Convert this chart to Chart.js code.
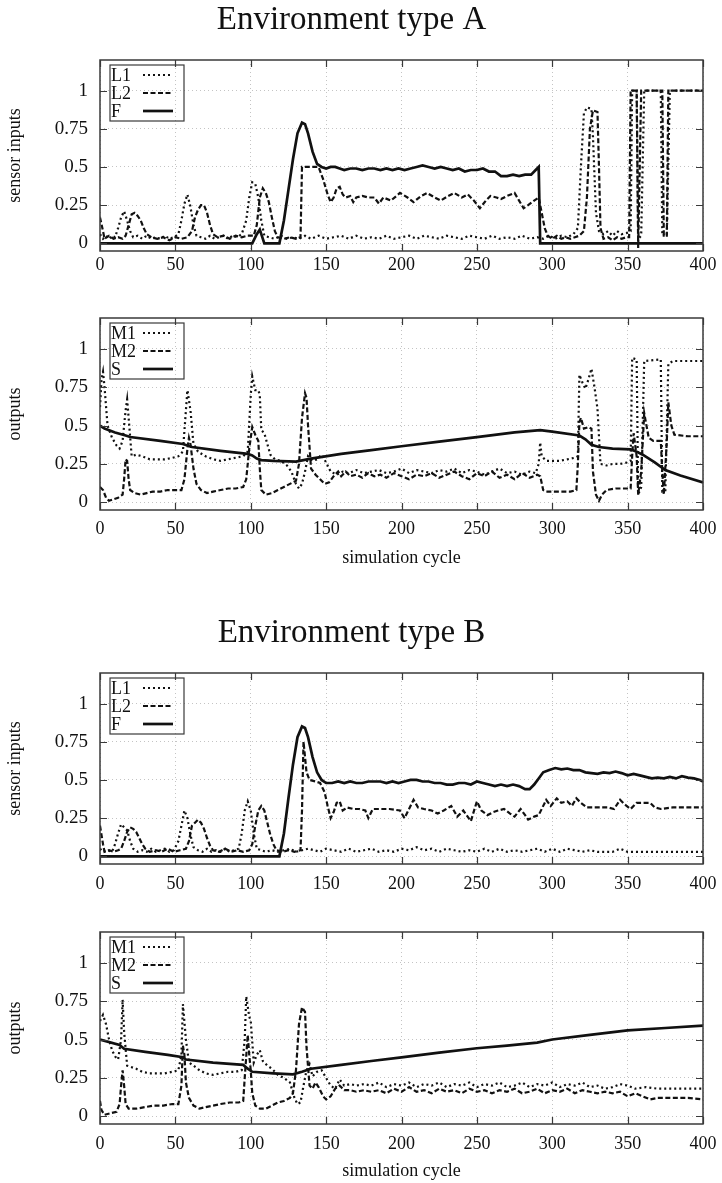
<!DOCTYPE html>
<html>
<head>
<meta charset="utf-8">
<title>Environment type A / B</title>
<script src="https://cdn.jsdelivr.net/npm/chart.js@4.4.1/dist/chart.umd.min.js"></script>
<style>
  body { margin: 0; background: #fff; width: 722px; height: 1183px; position: relative; overflow: hidden; }
  canvas { position: absolute; left: 0; }
</style>
</head>
<body>
<canvas id="envAInputs" width="722" height="280" style="top:0px"></canvas>
<canvas id="envAOutputs" width="722" height="300" style="top:280px"></canvas>
<canvas id="envBInputs" width="722" height="280" style="top:613px"></canvas>
<canvas id="envBOutputs" width="722" height="290" style="top:893px"></canvas>
<script>
// axis ticks
const xTicks = [0, 50, 100, 150, 200, 250, 300, 350, 400];
const yTicks = [0, 0.25, 0.5, 0.75, 1];
const yTickLabels = ["0", "0.25", "0.5", "0.75", "1"];

// environment A, sensor inputs  [cycle, value]
const envA_L1 = [[0,0.06],[2,0.03],[4,0.05],[6,0.03],[8,0.05],[10,0.04],[12,0.1],[14,0.17],[16,0.21],[18,0.15],[20,0.08],[22,0.04],[25,0.05],[28,0.03],[31,0.05],[34,0.03],[37,0.04],[40,0.03],[43,0.05],[46,0.03],[49,0.04],[52,0.06],[54,0.15],[56,0.26],[58,0.32],[60,0.24],[62,0.12],[64,0.05],[67,0.04],[70,0.03],[73,0.05],[76,0.03],[79,0.04],[82,0.05],[85,0.03],[88,0.05],[91,0.04],[94,0.06],[97,0.15],[99,0.3],[101,0.4],[103,0.39],[105,0.3],[107,0.15],[109,0.05],[112,0.04],[116,0.03],[120,0.05],[124,0.03],[128,0.04],[132,0.03],[136,0.05],[140,0.03],[145,0.05],[150,0.03],[155,0.04],[160,0.05],[165,0.03],[170,0.05],[175,0.03],[180,0.04],[185,0.03],[190,0.05],[195,0.03],[200,0.04],[205,0.05],[210,0.03],[215,0.05],[220,0.04],[225,0.03],[230,0.05],[235,0.04],[240,0.03],[245,0.05],[250,0.04],[255,0.03],[260,0.05],[265,0.03],[270,0.04],[275,0.03],[280,0.05],[285,0.03],[290,0.04],[294,0.03],[298,0.05],[302,0.03],[306,0.05],[310,0.04],[314,0.06],[317,0.1],[319,0.5],[321,0.85],[323,0.89],[326,0.88],[327,0.7],[329,0.2],[331,0.08],[334,0.06],[337,0.08],[340,0.05],[343,0.08],[346,0.06],[350,0.07],[352,0.08],[353,1],[356,1],[357,0.03],[359,0.05],[361,1],[372,1],[373,0.05],[376,0.05],[378,1],[400,1]];
const envA_L2 = [[0,0.17],[2,0.08],[3,0.03],[6,0.05],[9,0.03],[12,0.04],[15,0.03],[17,0.05],[19,0.12],[21,0.19],[23,0.2],[25,0.18],[27,0.15],[29,0.1],[31,0.06],[34,0.04],[38,0.03],[42,0.04],[46,0.02],[50,0.04],[54,0.03],[58,0.04],[61,0.08],[63,0.17],[65,0.22],[67,0.25],[69,0.25],[71,0.2],[73,0.12],[75,0.06],[78,0.04],[82,0.05],[86,0.03],[90,0.05],[94,0.04],[98,0.05],[102,0.05],[104,0.12],[106,0.3],[108,0.36],[110,0.33],[112,0.27],[114,0.17],[116,0.08],[118,0.04],[122,0.03],[126,0.04],[130,0.03],[133,0.04],[134,0.5],[140,0.5],[145,0.5],[148,0.42],[151,0.32],[153,0.27],[155,0.3],[157,0.36],[159,0.37],[161,0.32],[163,0.3],[166,0.31],[168,0.27],[170,0.3],[174,0.31],[178,0.3],[182,0.3],[185,0.26],[188,0.3],[193,0.28],[199,0.33],[204,0.3],[208,0.27],[213,0.31],[217,0.33],[222,0.3],[226,0.28],[231,0.31],[235,0.33],[240,0.3],[244,0.32],[248,0.28],[252,0.23],[256,0.28],[259,0.31],[263,0.3],[266,0.29],[270,0.31],[275,0.33],[278,0.28],[281,0.23],[284,0.25],[288,0.28],[291,0.3],[293,0.2],[295,0.1],[297,0.05],[300,0.03],[303,0.05],[306,0.03],[309,0.04],[312,0.03],[315,0.04],[318,0.05],[321,0.08],[323,0.3],[325,0.75],[327,0.87],[330,0.86],[331,0.5],[332,0.1],[334,0.03],[337,0.04],[340,0.02],[343,0.04],[346,0.03],[349,0.04],[351,0.04],[352,1],[356,1],[357,-0.03],[359,1],[373,1],[374,0.05],[376,0.05],[377,1],[400,1]];
const envA_F = [[0,0],[101,0],[104,0.06],[106,0.09],[107,0.06],[109,0],[119,0],[122,0.15],[125,0.35],[128,0.55],[131,0.72],[134,0.79],[136,0.78],[138,0.72],[141,0.6],[144,0.52],[147,0.5],[150,0.49],[153,0.5],[156,0.5],[159,0.49],[162,0.48],[166,0.49],[170,0.49],[174,0.48],[178,0.49],[182,0.49],[186,0.48],[190,0.49],[194,0.48],[198,0.49],[202,0.48],[206,0.49],[210,0.5],[214,0.51],[218,0.5],[222,0.49],[226,0.5],[230,0.49],[234,0.48],[238,0.49],[242,0.47],[246,0.48],[250,0.48],[254,0.49],[258,0.47],[262,0.47],[266,0.44],[270,0.44],[274,0.45],[278,0.44],[282,0.45],[286,0.45],[289,0.48],[291,0.5],[292,0],[400,0]];

// environment A, outputs
const envA_M1 = [[0,0.62],[1,0.8],[2,0.85],[3,0.75],[5,0.5],[8,0.42],[11,0.37],[13,0.35],[15,0.4],[17,0.6],[18,0.67],[19,0.55],[21,0.3],[24,0.31],[28,0.3],[33,0.28],[38,0.28],[43,0.28],[48,0.29],[52,0.3],[55,0.33],[57,0.6],[58,0.73],[60,0.6],[62,0.38],[65,0.33],[70,0.3],[75,0.28],[80,0.27],[85,0.28],[90,0.29],[95,0.3],[98,0.33],[100,0.7],[101,0.82],[103,0.73],[105,0.73],[106,0.7],[107,0.47],[109,0.45],[111,0.38],[113,0.31],[116,0.28],[120,0.27],[124,0.24],[127,0.2],[130,0.12],[132,0.09],[134,0.12],[136,0.2],[138,0.3],[141,0.27],[144,0.28],[147,0.31],[150,0.26],[153,0.2],[157,0.18],[161,0.2],[165,0.19],[170,0.21],[175,0.19],[180,0.2],[185,0.21],[190,0.19],[195,0.2],[200,0.22],[205,0.19],[210,0.21],[215,0.2],[220,0.19],[225,0.21],[230,0.2],[235,0.22],[240,0.19],[245,0.21],[250,0.2],[255,0.18],[260,0.2],[265,0.22],[270,0.19],[275,0.2],[280,0.18],[285,0.2],[289,0.19],[291,0.25],[292,0.39],[293,0.3],[296,0.27],[300,0.27],[305,0.27],[310,0.28],[315,0.29],[317,0.3],[318,0.83],[320,0.78],[322,0.74],[324,0.8],[326,0.87],[328,0.75],[330,0.61],[332,0.25],[336,0.24],[340,0.25],[345,0.25],[350,0.26],[352,0.27],[353,0.94],[356,0.93],[357,0.05],[359,0.1],[361,0.92],[372,0.93],[373,0.07],[375,0.07],[377,0.9],[380,0.92],[400,0.92]];
const envA_M2 = [[0,0.1],[2,0.08],[4,0.03],[6,0.01],[9,0.02],[12,0.03],[15,0.05],[16,0.15],[17,0.28],[18,0.27],[19,0.15],[20,0.08],[23,0.06],[27,0.05],[31,0.06],[35,0.07],[40,0.07],[45,0.08],[50,0.08],[54,0.08],[56,0.15],[58,0.35],[59,0.42],[60,0.38],[62,0.22],[64,0.12],[67,0.08],[71,0.06],[75,0.07],[80,0.08],[85,0.09],[90,0.09],[95,0.1],[97,0.15],[99,0.35],[101,0.49],[103,0.44],[105,0.4],[106,0.22],[107,0.08],[110,0.05],[114,0.06],[118,0.08],[122,0.1],[126,0.12],[130,0.14],[132,0.25],[134,0.55],[136,0.71],[137,0.68],[138,0.5],[140,0.22],[143,0.18],[146,0.15],[149,0.12],[152,0.13],[155,0.17],[158,0.2],[160,0.17],[163,0.2],[166,0.17],[170,0.18],[174,0.16],[178,0.19],[182,0.17],[186,0.18],[190,0.16],[195,0.19],[200,0.17],[205,0.15],[210,0.18],[215,0.17],[220,0.19],[225,0.16],[230,0.18],[235,0.2],[240,0.17],[245,0.15],[250,0.19],[255,0.17],[260,0.2],[265,0.16],[270,0.18],[275,0.15],[280,0.19],[285,0.16],[290,0.18],[292,0.17],[294,0.08],[296,0.07],[305,0.07],[312,0.07],[316,0.08],[317,0.25],[318,0.52],[319,0.55],[321,0.48],[324,0.49],[326,0.48],[327,0.2],[329,0.05],[331,0.01],[333,0.05],[336,0.08],[342,0.09],[348,0.09],[352,0.09],[353,0.3],[354,0.45],[356,0.3],[357,0.05],[359,0.2],[361,0.58],[364,0.42],[367,0.4],[372,0.4],[373,0.2],[374,0.05],[376,0.4],[377,0.65],[379,0.5],[381,0.44],[390,0.43],[400,0.43]];
const envA_S = [[0,0.5],[3,0.48],[10,0.455],[17,0.435],[20,0.425],[40,0.4],[55,0.38],[58,0.37],[61,0.36],[80,0.335],[98,0.315],[101,0.305],[104,0.285],[107,0.275],[115,0.27],[130,0.265],[135,0.275],[140,0.285],[160,0.315],[180,0.34],[200,0.365],[225,0.395],[250,0.425],[275,0.455],[292,0.47],[300,0.46],[318,0.435],[322,0.41],[326,0.375],[331,0.36],[340,0.35],[352,0.345],[356,0.33],[360,0.31],[368,0.26],[375,0.21],[385,0.175],[400,0.13]];

// environment B, sensor inputs
const envB_L1 = [[0,0.05],[2,0.03],[5,0.04],[8,0.03],[10,0.08],[12,0.15],[14,0.21],[16,0.19],[18,0.17],[20,0.1],[22,0.05],[25,0.03],[28,0.04],[31,0.03],[34,0.05],[37,0.03],[40,0.04],[43,0.05],[46,0.03],[49,0.04],[52,0.1],[54,0.2],[56,0.3],[58,0.25],[60,0.14],[62,0.06],[65,0.04],[68,0.03],[71,0.05],[74,0.03],[77,0.04],[80,0.03],[83,0.05],[86,0.03],[89,0.04],[92,0.05],[94,0.15],[96,0.3],[98,0.36],[100,0.3],[102,0.15],[104,0.05],[107,0.04],[110,0.03],[114,0.04],[118,0.03],[122,0.04],[126,0.05],[130,0.03],[134,0.04],[138,0.05],[142,0.04],[146,0.03],[150,0.05],[155,0.04],[160,0.03],[165,0.05],[170,0.03],[175,0.04],[180,0.05],[185,0.03],[190,0.04],[195,0.03],[200,0.05],[205,0.04],[210,0.06],[215,0.04],[220,0.05],[225,0.03],[230,0.05],[235,0.04],[240,0.03],[245,0.04],[250,0.03],[255,0.05],[260,0.03],[265,0.05],[270,0.03],[275,0.04],[280,0.03],[285,0.04],[290,0.05],[295,0.03],[300,0.05],[305,0.03],[310,0.05],[315,0.04],[320,0.03],[325,0.04],[330,0.03],[340,0.03],[345,0.05],[350,0.03],[360,0.03],[400,0.03]];
const envB_L2 = [[0,0.2],[2,0.08],[3,0.03],[6,0.04],[9,0.03],[12,0.04],[14,0.05],[16,0.1],[18,0.16],[20,0.19],[22,0.18],[24,0.16],[26,0.12],[28,0.08],[30,0.05],[33,0.03],[37,0.04],[41,0.03],[45,0.05],[49,0.03],[53,0.04],[57,0.05],[59,0.1],[61,0.2],[63,0.22],[65,0.24],[67,0.22],[69,0.18],[71,0.12],[73,0.07],[75,0.04],[79,0.03],[83,0.05],[87,0.03],[91,0.04],[95,0.03],[99,0.04],[101,0.08],[103,0.2],[105,0.3],[107,0.33],[109,0.3],[111,0.22],[113,0.14],[115,0.08],[117,0.04],[121,0.03],[125,0.04],[129,0.03],[133,0.04],[134,0.3],[135,0.75],[137,0.55],[139,0.5],[143,0.49],[146,0.48],[149,0.42],[151,0.33],[153,0.25],[155,0.29],[157,0.35],[159,0.36],[161,0.3],[164,0.32],[168,0.31],[172,0.31],[176,0.3],[178,0.25],[181,0.31],[186,0.31],[192,0.31],[199,0.3],[202,0.25],[205,0.31],[208,0.37],[211,0.32],[215,0.31],[220,0.3],[224,0.28],[228,0.3],[233,0.33],[237,0.26],[241,0.3],[246,0.23],[250,0.36],[253,0.3],[257,0.27],[261,0.29],[264,0.3],[268,0.31],[272,0.28],[275,0.26],[279,0.31],[282,0.27],[284,0.24],[288,0.26],[291,0.27],[293,0.31],[296,0.37],[299,0.33],[303,0.38],[306,0.35],[310,0.36],[313,0.33],[316,0.38],[319,0.35],[323,0.32],[330,0.32],[337,0.32],[341,0.31],[345,0.37],[348,0.34],[352,0.31],[356,0.35],[360,0.35],[365,0.35],[368,0.32],[372,0.31],[380,0.32],[390,0.32],[400,0.32]];
const envB_F = [[0,0],[119,0],[122,0.15],[125,0.38],[128,0.6],[131,0.78],[134,0.85],[136,0.84],[138,0.78],[141,0.65],[144,0.55],[147,0.5],[150,0.48],[154,0.48],[158,0.49],[162,0.48],[166,0.49],[170,0.48],[174,0.48],[178,0.49],[182,0.49],[186,0.49],[190,0.48],[194,0.49],[198,0.48],[202,0.49],[206,0.5],[210,0.5],[214,0.49],[218,0.49],[222,0.48],[226,0.48],[230,0.47],[234,0.47],[238,0.48],[242,0.48],[246,0.47],[250,0.49],[254,0.48],[258,0.47],[262,0.46],[266,0.47],[270,0.46],[274,0.47],[278,0.46],[282,0.44],[285,0.44],[288,0.47],[291,0.51],[294,0.55],[298,0.565],[302,0.578],[306,0.57],[310,0.575],[314,0.565],[318,0.565],[322,0.55],[326,0.545],[330,0.54],[334,0.55],[338,0.545],[342,0.555],[346,0.545],[350,0.53],[354,0.54],[358,0.53],[362,0.52],[366,0.51],[370,0.515],[374,0.51],[378,0.52],[382,0.51],[386,0.525],[390,0.515],[394,0.51],[398,0.5],[400,0.49]];

// environment B, outputs
const envB_M1 = [[0,0.62],[2,0.66],[4,0.6],[6,0.5],[8,0.43],[10,0.39],[12,0.37],[14,0.5],[15,0.76],[16,0.55],[18,0.33],[21,0.32],[24,0.31],[28,0.29],[33,0.28],[38,0.28],[43,0.28],[48,0.29],[52,0.3],[54,0.4],[55,0.73],[57,0.5],[59,0.35],[62,0.33],[66,0.3],[70,0.28],[75,0.27],[80,0.28],[85,0.29],[90,0.29],[94,0.3],[96,0.5],[97,0.78],[99,0.65],[100,0.62],[102,0.35],[104,0.4],[106,0.43],[108,0.36],[111,0.33],[114,0.31],[118,0.27],[122,0.25],[126,0.22],[129,0.12],[131,0.08],[133,0.09],[135,0.2],[137,0.3],[139,0.34],[141,0.26],[144,0.29],[147,0.3],[150,0.25],[153,0.2],[156,0.18],[159,0.24],[162,0.2],[166,0.21],[170,0.2],[175,0.21],[180,0.2],[185,0.22],[190,0.19],[195,0.21],[200,0.2],[205,0.22],[210,0.19],[215,0.21],[220,0.2],[225,0.22],[230,0.19],[235,0.21],[240,0.2],[245,0.22],[250,0.19],[255,0.21],[260,0.2],[265,0.22],[270,0.19],[275,0.2],[280,0.22],[285,0.19],[290,0.21],[295,0.2],[300,0.22],[305,0.19],[310,0.21],[315,0.2],[320,0.22],[325,0.19],[330,0.2],[335,0.18],[340,0.19],[345,0.21],[350,0.2],[355,0.18],[362,0.19],[370,0.18],[400,0.18]];
const envB_M2 = [[0,0.1],[1,0.04],[3,0.01],[7,0.02],[11,0.03],[13,0.08],[14,0.2],[15,0.3],[16,0.2],[17,0.08],[19,0.05],[24,0.05],[30,0.06],[36,0.07],[42,0.07],[48,0.08],[52,0.08],[54,0.2],[55,0.46],[56,0.4],[57,0.22],[59,0.12],[62,0.07],[66,0.05],[70,0.06],[75,0.07],[80,0.08],[86,0.09],[92,0.09],[95,0.1],[96,0.25],[98,0.53],[99,0.4],[100,0.3],[101,0.15],[103,0.07],[106,0.05],[110,0.05],[114,0.07],[118,0.09],[122,0.1],[126,0.12],[128,0.15],[130,0.3],[132,0.6],[134,0.71],[136,0.68],[137,0.45],[139,0.2],[141,0.18],[143,0.22],[145,0.19],[148,0.13],[150,0.11],[153,0.13],[156,0.18],[159,0.2],[162,0.17],[166,0.17],[170,0.16],[175,0.17],[180,0.16],[185,0.17],[190,0.15],[195,0.18],[200,0.16],[205,0.19],[210,0.16],[215,0.17],[220,0.15],[225,0.18],[230,0.16],[235,0.17],[240,0.15],[245,0.18],[250,0.16],[255,0.17],[260,0.15],[265,0.17],[270,0.16],[275,0.18],[280,0.15],[285,0.16],[290,0.18],[295,0.15],[300,0.17],[305,0.16],[310,0.18],[315,0.15],[320,0.17],[325,0.16],[330,0.15],[335,0.16],[340,0.15],[345,0.16],[350,0.13],[355,0.15],[360,0.13],[365,0.11],[370,0.12],[380,0.12],[390,0.12],[400,0.11]];
const envB_S = [[0,0.5],[13,0.465],[16,0.44],[30,0.42],[45,0.4],[55,0.385],[57,0.37],[75,0.35],[95,0.335],[98,0.31],[101,0.29],[115,0.28],[128,0.273],[134,0.29],[140,0.31],[160,0.335],[180,0.36],[200,0.384],[225,0.415],[250,0.443],[270,0.46],[290,0.48],[300,0.5],[325,0.53],[350,0.56],[375,0.575],[400,0.59]];

const serif = "'Liberation Serif', 'DejaVu Serif', serif";
const ink = "#111";
const frameColor = "#3a3a3a";
const gridColor = "#c4c4c4";

Chart.defaults.font.family = serif;
Chart.defaults.font.size = 18;
Chart.defaults.color = ink;
Chart.defaults.animation = false;

const lineStyles = {
  dotted: { borderDash: [2, 3], borderWidth: 2.2 },
  dashed: { borderDash: [5, 2.5], borderWidth: 2.2 },
  solid: { borderDash: [], borderWidth: 2.7 }
};

const toPoints = (pairs) => pairs.map(([x, y]) => ({ x, y }));

const makeDataset = (label, pairs, style) => ({
  label,
  data: toPoints(pairs),
  borderColor: ink,
  backgroundColor: ink,
  pointRadius: 0,
  tension: 0,
  fill: false,
  ...lineStyles[style]
});

// box + inner tick marks, gnuplot style
const framePlugin = {
  id: "frame",
  afterDatasetsDraw(chart) {
    const { ctx, chartArea: a, scales: { x, y } } = chart;
    ctx.save();
    ctx.strokeStyle = frameColor;
    ctx.lineWidth = 1.2;
    ctx.setLineDash([]);
    ctx.beginPath();
    xTicks.forEach((v) => {
      const px = Math.round(x.getPixelForValue(v)) + 0.5;
      ctx.moveTo(px, a.bottom); ctx.lineTo(px, a.bottom - 7);
      ctx.moveTo(px, a.top); ctx.lineTo(px, a.top + 7);
    });
    yTicks.forEach((v) => {
      const py = Math.round(y.getPixelForValue(v)) + 0.5;
      ctx.moveTo(a.left, py); ctx.lineTo(a.left + 7, py);
      ctx.moveTo(a.right, py); ctx.lineTo(a.right - 7, py);
    });
    ctx.stroke();
    ctx.lineWidth = 1.5;
    ctx.strokeRect(a.left, a.top, a.width, a.height);
    ctx.restore();
  }
};

// key box in the upper left corner: text first, line sample after
const keyPlugin = {
  id: "key",
  afterDraw(chart) {
    const { ctx, chartArea: a } = chart;
    const left = a.left + 10;
    const top = a.top + 5;
    ctx.save();
    ctx.strokeStyle = frameColor;
    ctx.lineWidth = 1.2;
    ctx.setLineDash([]);
    ctx.strokeRect(left, top, 74, 56);
    ctx.font = "18px " + serif;
    ctx.fillStyle = ink;
    ctx.textBaseline = "middle";
    chart.data.datasets.forEach((ds, i) => {
      const cy = top + 10 + i * 18;
      ctx.fillText(ds.label, left + 1, cy + 1);
      ctx.strokeStyle = ink;
      ctx.lineWidth = ds.borderWidth;
      ctx.setLineDash(ds.borderDash);
      ctx.beginPath();
      ctx.moveTo(left + 33, cy);
      ctx.lineTo(left + 63, cy);
      ctx.stroke();
    });
    ctx.restore();
  }
};

const buildPanel = ({ id, datasets, title, yTitle, xTitle, padTop, xHeight, tickPad, xTitlePad }) => {
  new Chart(document.getElementById(id), {
    type: "line",
    data: { datasets },
    plugins: [framePlugin, keyPlugin],
    options: {
      responsive: false,
      layout: { padding: { top: padTop, right: 19, bottom: 0, left: 0 } },
      plugins: {
        legend: { display: false },
        tooltip: { enabled: false },
        title: {
          display: !!title,
          text: title,
          color: ink,
          font: { family: serif, size: 33, weight: "normal", lineHeight: 1.05 },
          padding: { top: 3, bottom: 22.35 }
        }
      },
      scales: {
        x: {
          type: "linear",
          min: 0,
          max: 400,
          afterBuildTicks: (scale) => { scale.ticks = xTicks.map((value) => ({ value })); },
          afterFit: (scale) => {
            scale.height = xHeight;
            scale.paddingLeft = 0;
            scale.paddingRight = 0;
          },
          ticks: { padding: tickPad, color: ink, maxRotation: 0, font: { size: 18 } },
          grid: { color: gridColor, lineWidth: 1, drawTicks: false },
          border: { display: false, dash: [1, 3] },
          title: {
            display: !!xTitle,
            text: xTitle,
            color: ink,
            font: { size: 18 },
            padding: { top: 0, bottom: xTitlePad }
          }
        },
        y: {
          type: "linear",
          min: -0.05,
          max: 1.2,
          afterBuildTicks: (scale) => { scale.ticks = yTicks.map((value) => ({ value })); },
          afterFit: (scale) => { scale.width = 100; },
          ticks: {
            padding: 12,
            color: ink,
            font: { size: 19 },
            callback: (value, index) => yTickLabels[index]
          },
          grid: { color: gridColor, lineWidth: 1, drawTicks: false },
          border: { display: false, dash: [1, 3] },
          title: {
            display: true,
            text: yTitle,
            color: ink,
            font: { size: 18 },
            padding: { top: 4, bottom: 0 }
          }
        }
      }
    }
  });
};

buildPanel({
  id: "envAInputs",
  title: "Environment type A",
  yTitle: "sensor inputs",
  xTitle: "",
  padTop: 0,
  xHeight: 29,
  tickPad: 3,
  xTitlePad: 0,
  datasets: [
    makeDataset("L1", envA_L1, "dotted"),
    makeDataset("L2", envA_L2, "dashed"),
    makeDataset("F", envA_F, "solid")
  ]
});

buildPanel({
  id: "envAOutputs",
  title: "",
  yTitle: "outputs",
  xTitle: "simulation cycle",
  padTop: 38,
  xHeight: 70,
  tickPad: 8,
  xTitlePad: 11,
  datasets: [
    makeDataset("M1", envA_M1, "dotted"),
    makeDataset("M2", envA_M2, "dashed"),
    makeDataset("S", envA_S, "solid")
  ]
});

buildPanel({
  id: "envBInputs",
  title: "Environment type B",
  yTitle: "sensor inputs",
  xTitle: "",
  padTop: 0,
  xHeight: 29,
  tickPad: 9,
  xTitlePad: 0,
  datasets: [
    makeDataset("L1", envB_L1, "dotted"),
    makeDataset("L2", envB_L2, "dashed"),
    makeDataset("F", envB_F, "solid")
  ]
});

buildPanel({
  id: "envBOutputs",
  title: "",
  yTitle: "outputs",
  xTitle: "simulation cycle",
  padTop: 39,
  xHeight: 59,
  tickPad: 9,
  xTitlePad: 1,
  datasets: [
    makeDataset("M1", envB_M1, "dotted"),
    makeDataset("M2", envB_M2, "dashed"),
    makeDataset("S", envB_S, "solid")
  ]
});
</script>
</body>
</html>
